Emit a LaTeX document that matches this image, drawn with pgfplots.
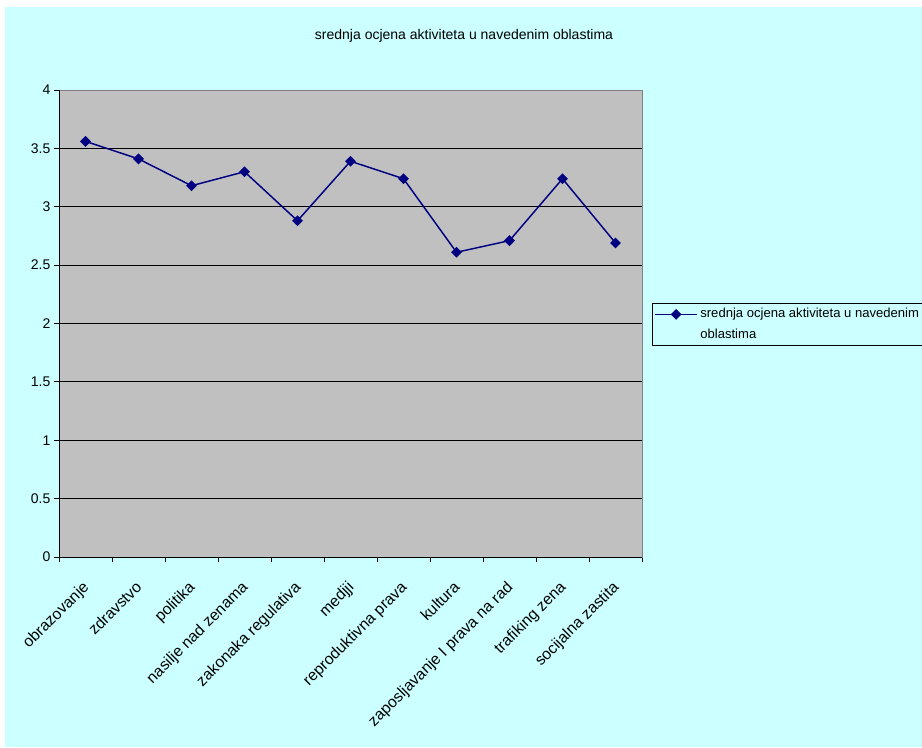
\documentclass[border=0pt]{standalone}
\usepackage{pgfplots}
\usepackage{pgfplotstable}
\pgfplotsset{compat=1.18}
\usepackage{fontspec}
\setmainfont{Liberation Sans}

\definecolor{bgcyan}{HTML}{CCFFFF}
\definecolor{plotgray}{HTML}{C0C0C0}
\definecolor{navyline}{HTML}{000080}
\definecolor{framegray}{HTML}{808080}

% mean activity score per area
\pgfplotstableread{
idx value
1  3.56
2  3.41
3  3.18
4  3.30
5  2.88
6  3.39
7  3.24
8  2.61
9  2.71
10 3.24
11 2.69
}\scores

\begin{document}
\begin{tikzpicture}[x=0.75pt,y=0.75pt]
\fill[white] (0,0) rectangle (922,747);
\fill[bgcyan] (5,0) rectangle (922,740);
\begin{scope}
\clip (0,0) rectangle (922,747);
\node[font=\fontsize{10.5}{12}\selectfont] at (464,711) {srednja ocjena aktiviteta u navedenim oblastima};
\begin{axis}[
  at={(44.25pt,142.5pt)}, anchor=south west,
  scale only axis, width=437.25pt, height=350.25pt,
  xmin=0.5, xmax=11.5, ymin=0, ymax=4,
  axis background/.style={fill=plotgray},
  axis line style={draw=framegray, line width=0.75pt},
  xtick pos=left, ytick pos=left,
  ytick={0,0.5,...,3.5}, extra y ticks={4}, extra y tick style={grid=none},
  ymajorgrids, major grid style={black, line width=0.75pt},
  xtick={1,...,11},
  xticklabels={obrazovanje, zdravstvo, politika, nasilje nad zenama, zakonaka regulativa, medjji, reproduktivna prava, kultura, zaposljavanje I prava na rad, trafiking zena, socijalna zastita},
  minor xtick={0.5,1.5,...,11.5},
  major x tick style={draw=none},
  tick align=outside, major tick length=3.75pt, minor tick length=3.75pt,
  every tick/.style={black, line width=0.75pt},
  minor x tick style={black, line width=0.75pt},
  /pgf/number format/assume math mode=true,
  yticklabel style={font=\fontsize{10.5}{12}\selectfont, inner sep=2.5pt},
  xticklabel style={xshift=-3pt, yshift=-12pt, rotate=45, anchor=north east, font=\fontsize{11.8}{14}\selectfont, inner sep=1pt},
  legend style={at={(1.01715,0.5439)}, anchor=north west, draw=black, line width=0.75pt, fill=bgcyan,
    font=\fontsize{9.8}{15.75}\selectfont, cells={align=left}, inner sep=1.5pt},
  legend cell align=left,
  % sample line sits beside the first line of the entry text
  legend image code/.code={
    \draw[mark repeat=2, mark phase=2] plot coordinates {(0cm,7.5pt) (0.55cm,7.5pt) (1.1cm,7.5pt)};},
  after end axis/.code={
    \draw[black, line width=0.75pt] (rel axis cs:0,1) -- (rel axis cs:0,0) -- (rel axis cs:1,0);
  },
]
\addplot[navyline, line width=1.1pt, mark=diamond*, mark size=3.3pt,
  mark options={solid, fill=navyline, xscale=1.333}] table[x=idx, y=value] {\scores};
\addlegendentry{srednja ocjena aktiviteta u navedenim\hspace*{12pt}\\oblastima}
\end{axis}
\end{scope}
\pgfresetboundingbox
\useasboundingbox (0,0) rectangle (922,747);
\end{tikzpicture}
\end{document}
